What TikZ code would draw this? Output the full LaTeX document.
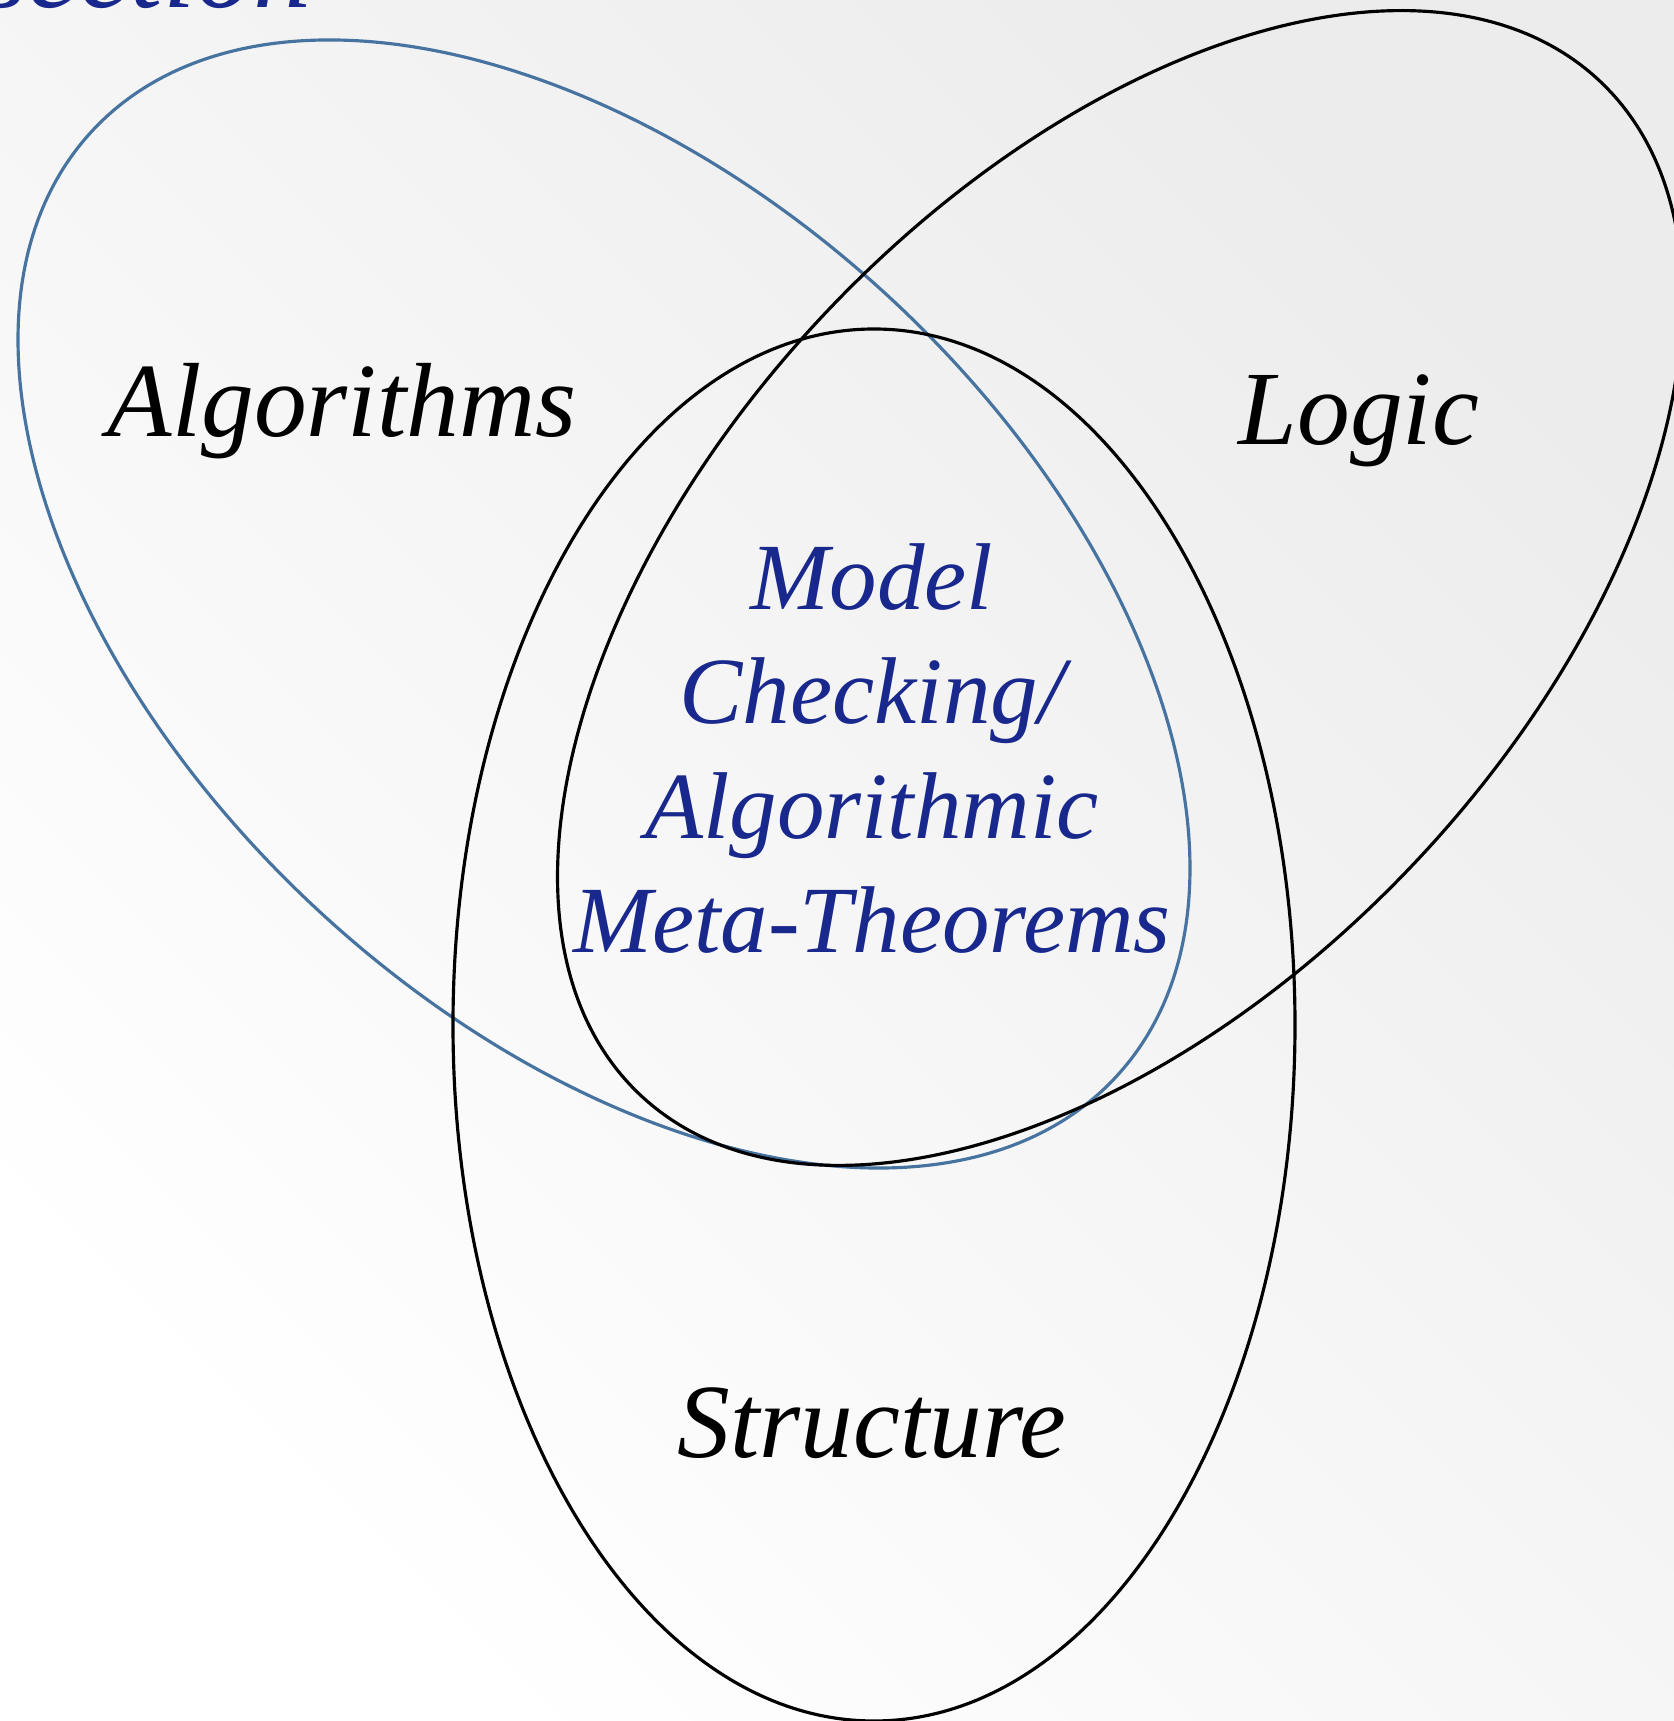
\documentclass[tikz,border=0pt]{standalone}
\usepackage{fontspec}
\setmainfont{Liberation Serif}
\usepackage{tikz}
\usetikzlibrary{positioning}
\definecolor{VennBlue}{RGB}{70,115,160}
\definecolor{VennInk}{RGB}{24,40,140}
\definecolor{VennShade}{RGB}{236,236,236}

\begin{document}
\begin{tikzpicture}[x=0.1mm, y=0.1mm]
  \tikzstyle{setline} = [draw=black, line width=0.9pt]
  \tikzstyle{setlabel} = [inner sep=0pt, font=\fontsize{30}{36}\selectfont\itshape, text=black]
  \tikzstyle{corelabel} = [inner sep=0pt, align=center, font=\fontsize{27}{32.6}\selectfont\itshape, text=VennInk]

  \useasboundingbox (0,0) rectangle (1674,1721);
  \clip (0,0) rectangle (1674,1721);
  \shade [shading=axis, top color=VennShade, bottom color=white, shading angle=-45] (0,0) rectangle (1674,1721);

  % slide title, cut by the top edge
  \node [corelabel, font=\fontsize{33}{40}\selectfont\itshape, anchor=base east] (title) at (312,1713) {Intersection};

  % the three sets
  \draw [setline, draw=VennBlue, rotate around={-42.67:(604,1117)}] (604,1117) ellipse (697 and 419);
  \draw [setline, rotate around={46.5:(1120,1133)}] (1120,1133) ellipse (698 and 403);
  \draw [setline] (874,696) ellipse (421 and 696);

  \node [setlabel, anchor=base] (algo) at (342,1284) {Algorithms};
  \node [setlabel, anchor=base] (logic) at (1359,1276) {Logic};
  \node [setlabel, anchor=base] (struct) at (872,263) {Structure};
  \node [corelabel, anchor=base] (core) at (872,768) {Model\\Checking/\\Algorithmic\\Meta-Theorems};
\end{tikzpicture}
\end{document}
